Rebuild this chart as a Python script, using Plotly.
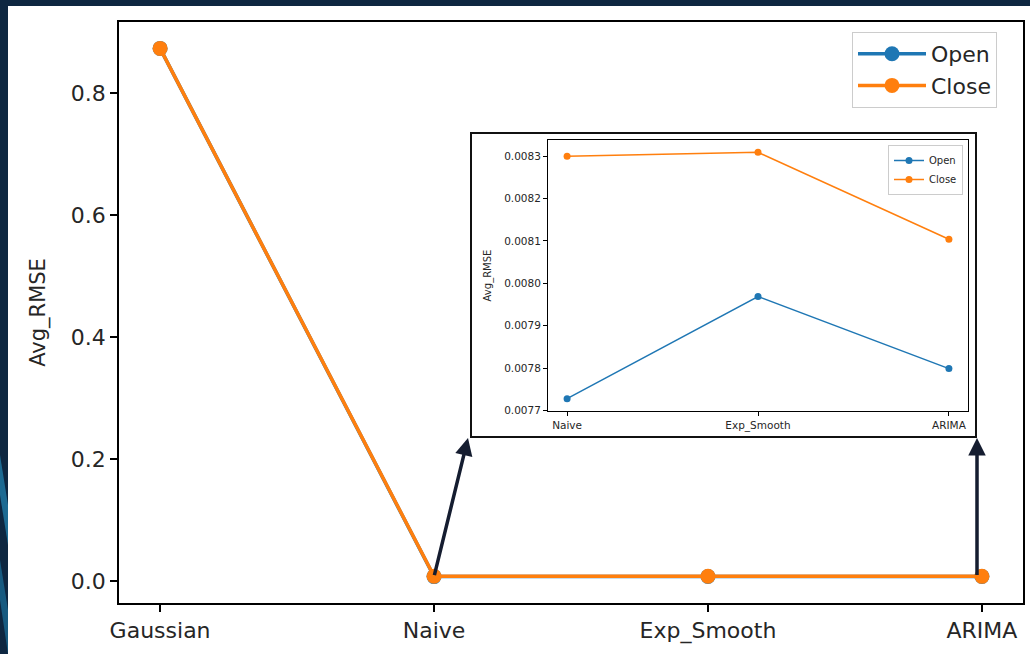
import plotly.graph_objects as go

# ---- data -------------------------------------------------------------
models = ["Gaussian", "Naive", "Exp_Smooth", "ARIMA"]
open_rmse = [0.873, 0.007728, 0.007969, 0.007799]
close_rmse = [0.873, 0.008300, 0.008309, 0.008104]

main_yticks = [0.0, 0.2, 0.4, 0.6, 0.8]
inset_yticks = [0.0077, 0.0078, 0.0079, 0.0080, 0.0081, 0.0082, 0.0083]

# ---- layout constants (pixels on a 1030 x 654 page) ----------------------
W, H = 1030, 654
BLUE, ORANGE = "#1f77b4", "#ff7f0e"
FONT = "DejaVu Sans"
TXT = "#262626"

MAIN = dict(l=119, r=1023, t=22, b=603)      # main axes box
INSET_BOX = dict(l=471, r=976, t=133, b=437)  # framed inset panel
INSET = dict(l=548, r=968, t=140, b=411)      # inset axes box


def fx(px):
    return px / W


def fy(py):
    return 1 - py / H


def auto_range(vals, n_pad=0.05):
    lo, hi = min(vals), max(vals)
    span = hi - lo
    return [lo - n_pad * span, hi + n_pad * span]


main_xr = [-0.15, len(models) - 1 + 0.15]
main_yr = auto_range(open_rmse + close_rmse)
inset_xr = [-0.1, len(models) - 2 + 0.1]
inset_yr = auto_range(open_rmse[1:] + close_rmse[1:])


def main_x_of(px):
    return main_xr[0] + (px - MAIN["l"]) / (MAIN["r"] - MAIN["l"]) * (main_xr[1] - main_xr[0])


def main_y_of(py):
    return main_yr[0] + (MAIN["b"] - py) / (MAIN["b"] - MAIN["t"]) * (main_yr[1] - main_yr[0])


fig = go.Figure()

# main chart
xi = list(range(len(models)))
fig.add_trace(go.Scatter(x=xi, y=open_rmse, name="Open", mode="lines+markers",
                         line=dict(color=BLUE, width=3.5), marker=dict(size=15, color=BLUE),
                         xaxis="x", yaxis="y", legend="legend"))
fig.add_trace(go.Scatter(x=xi, y=close_rmse, name="Close", mode="lines+markers",
                         line=dict(color=ORANGE, width=3.5), marker=dict(size=15, color=ORANGE),
                         xaxis="x", yaxis="y", legend="legend"))

# zoomed inset without the Gaussian model
xj = list(range(len(models) - 1))
fig.add_trace(go.Scatter(x=xj, y=open_rmse[1:], name="Open", mode="lines+markers",
                         line=dict(color=BLUE, width=1.5), marker=dict(size=7, color=BLUE),
                         xaxis="x2", yaxis="y2", legend="legend2"))
fig.add_trace(go.Scatter(x=xj, y=close_rmse[1:], name="Close", mode="lines+markers",
                         line=dict(color=ORANGE, width=1.5), marker=dict(size=7, color=ORANGE),
                         xaxis="x2", yaxis="y2", legend="legend2"))

axis_common = dict(showline=True, mirror=True, linecolor="black", showgrid=False,
                   zeroline=False, ticks="outside", tickcolor="black", automargin=False)

shapes = [
    # white slide panel
    dict(type="rect", xref="paper", yref="paper", x0=fx(8), x1=1, y0=0, y1=fy(6),
         fillcolor="white", line=dict(width=0), layer="below"),
    # inset frame
    dict(type="rect", xref="paper", yref="paper",
         x0=fx(INSET_BOX["l"]), x1=fx(INSET_BOX["r"]),
         y0=fy(INSET_BOX["b"]), y1=fy(INSET_BOX["t"]),
         fillcolor="white", line=dict(color="#111111", width=2), layer="below"),
    # decorative stripes on the slide edge
    dict(type="path", xref="paper", yref="paper", layer="below",
         path=f"M 0 {fy(455)} L {fx(8)} {fy(505)} L {fx(8)} {fy(545)} L 0 {fy(495)} Z",
         fillcolor="#1d6a92", line=dict(width=0)),
    dict(type="path", xref="paper", yref="paper", layer="below",
         path=f"M 0 {fy(560)} L {fx(8)} {fy(610)} L {fx(8)} {fy(654)} L 0 {fy(600)} Z",
         fillcolor="#175a80", line=dict(width=0)),
]

arrow_style = dict(showarrow=True, arrowhead=2, arrowsize=1, arrowwidth=3.5,
                   arrowcolor="#151d30", text="", xref="x", yref="y",
                   axref="x", ayref="y", standoff=0, startstandoff=0)
annotations = [
    dict(x=main_x_of(INSET_BOX["l"] - 3), y=main_y_of(INSET_BOX["b"] + 1),
         ax=1, ay=open_rmse[1], **arrow_style),
    dict(x=main_x_of(INSET_BOX["r"] + 1), y=main_y_of(INSET_BOX["b"] + 1),
         ax=main_x_of(INSET_BOX["r"] + 1), ay=open_rmse[3], **arrow_style),
]

fig.update_layout(
    width=W, height=H, template="none",
    margin=dict(l=0, r=0, t=0, b=0, pad=0),
    paper_bgcolor="#0e2741", plot_bgcolor="rgba(0,0,0,0)",
    font=dict(family=FONT, color=TXT),
    xaxis=dict(domain=[fx(MAIN["l"]), fx(MAIN["r"])], range=main_xr,
               tickvals=xi, ticktext=models, tickfont=dict(size=22, color=TXT),
               linewidth=1.5, tickwidth=1.5, ticklen=7, anchor="y", **axis_common),
    yaxis=dict(domain=[fy(MAIN["b"]), fy(MAIN["t"])], range=main_yr,
               tickvals=main_yticks, tickformat=".1f", tickfont=dict(size=22, color=TXT),
               linewidth=1.5, tickwidth=1.5, ticklen=7, anchor="x",
               title=dict(text="Avg_RMSE", font=dict(size=21, color=TXT), standoff=19),
               **axis_common),
    xaxis2=dict(domain=[fx(INSET["l"]), fx(INSET["r"])], range=inset_xr,
                tickvals=xj, ticktext=models[1:], tickfont=dict(size=10.5, color=TXT),
                linewidth=1, tickwidth=1, ticklen=4, anchor="y2", **axis_common),
    yaxis2=dict(domain=[fy(INSET["b"]), fy(INSET["t"])], range=inset_yr,
                tickvals=inset_yticks, tickformat=".4f", tickfont=dict(size=10.5, color=TXT),
                linewidth=1, tickwidth=1, ticklen=4, anchor="x2",
                title=dict(text="Avg_RMSE", font=dict(size=10, color=TXT), standoff=10),
                **axis_common),
    legend=dict(x=fx(852), y=fy(32), xanchor="left", yanchor="top",
                font=dict(size=22, color=TXT), bgcolor="white", itemwidth=68,
                bordercolor="#cccccc", borderwidth=1),
    legend2=dict(x=fx(888), y=fy(145), xanchor="left", yanchor="top",
                 font=dict(size=10, color=TXT), bgcolor="white",
                 bordercolor="#cccccc", borderwidth=1),
    showlegend=True,
    shapes=shapes,
    annotations=annotations,
)

fig.write_html("out.html")
